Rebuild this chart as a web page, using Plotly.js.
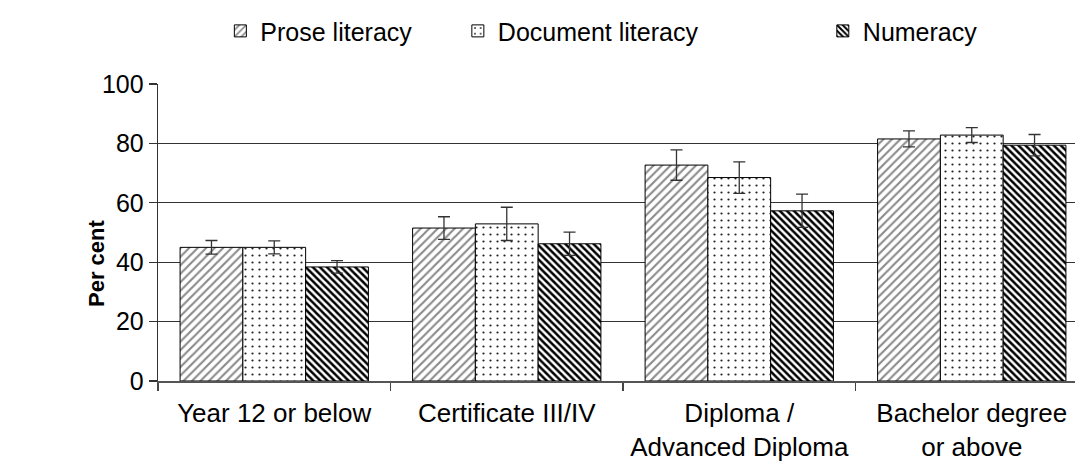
<!DOCTYPE html>
<html>
<head>
<meta charset="utf-8">
<script src="https://cdn.plot.ly/plotly-3.0.1.min.js"></script>
<style>html,body{margin:0;padding:0;background:#fff;}#chart{width:1075px;height:463px;}</style>
</head>
<body>
<div id="chart"></div>
<script>
var categories = ["Year 12 or below", "Certificate III/IV", "Diploma /<br>Advanced Diploma", "Bachelor degree<br>or above"];
var seriesNames = ["Prose literacy", "Document literacy", "Numeracy"];
var proseValues = [45.0, 51.5, 72.7, 81.5];
var proseErrors = [2.3, 3.8, 5.1, 2.7];
var documentValues = [45.0, 52.9, 68.5, 82.8];
var documentErrors = [2.2, 5.6, 5.3, 2.5];
var numeracyValues = [38.4, 46.2, 57.3, 79.4];
var numeracyErrors = [2.1, 3.9, 5.6, 3.6];
var yTicks = [0, 20, 40, 60, 80, 100];

var FONT = "Liberation Sans, Arial, sans-serif";

function errBar(arr) {
  return {type: "data", array: arr, visible: true, color: "#333", thickness: 1.3, width: 6};
}

var traces = [
  {
    type: "bar", name: seriesNames[0], x: categories, y: proseValues,
    error_y: errBar(proseErrors),
    marker: {color: "#fff", line: {color: "#000", width: 1},
      pattern: {shape: "/", fgcolor: "#8a8a8a", bgcolor: "#fff", size: 6, solidity: 0.35}},
    legend: "legend"
  },
  {
    type: "bar", name: seriesNames[1], x: categories, y: documentValues,
    error_y: errBar(documentErrors),
    marker: {color: "#fff", line: {color: "#000", width: 1},
      pattern: {shape: ".", fgcolor: "#222", bgcolor: "#fff", size: 7, solidity: 0.08}},
    legend: "legend2"
  },
  {
    type: "bar", name: seriesNames[2], x: categories, y: numeracyValues,
    error_y: errBar(numeracyErrors),
    marker: {color: "#fff", line: {color: "#000", width: 1},
      pattern: {shape: "\\", fgcolor: "#000", bgcolor: "#fff", size: 5, solidity: 0.5}},
    legend: "legend3"
  }
];

var legendBase = {orientation: "h", yanchor: "middle", xanchor: "left", y: 1.178,
  font: {family: FONT, size: 25, color: "#000"}, bgcolor: "rgba(0,0,0,0)",
  itemwidth: 30, tracegroupgap: 0};

var layout = {
  width: 1075, height: 463,
  margin: {l: 158, r: 0, t: 84, b: 82},
  paper_bgcolor: "#fff", plot_bgcolor: "#fff",
  font: {family: FONT, size: 25, color: "#000"},
  barmode: "group", bargap: 0.19, bargroupgap: 0,
  showlegend: true,
  legend: Object.assign({}, legendBase, {x: 0.068}),
  legend2: Object.assign({}, legendBase, {x: 0.327}),
  legend3: Object.assign({}, legendBase, {x: 0.725}),
  xaxis: {
    type: "category", range: [-0.5, 3.444],
    showline: true, linecolor: "#555", linewidth: 1.5,
    ticks: "outside", tickson: "boundaries", ticklen: 8, tickcolor: "#444", tickwidth: 1.3,
    showgrid: false, zeroline: false, ticklabelstandoff: 8,
    tickfont: {family: FONT, size: 26, color: "#000"}
  },
  yaxis: {
    range: [0, 100], tickvals: yTicks, ticktext: yTicks.map(String),
    showline: true, linecolor: "#333", linewidth: 1.3,
    ticks: "outside", ticklen: 8, tickcolor: "#333", tickwidth: 1.3,
    showgrid: true, gridcolor: "#333", gridwidth: 1.3, zeroline: false,
    ticklabelstandoff: 0,
    tickfont: {family: FONT, size: 25, color: "#000"}
  },
  annotations: [{
    text: "<b>Per cent</b>", textangle: -90, xref: "paper", yref: "paper",
    x: -0.0665, y: 0.394, xanchor: "center", yanchor: "middle", showarrow: false,
    font: {family: FONT, size: 22, color: "#000"}
  }]
};

Plotly.newPlot("chart", traces, layout, {staticPlot: true, displayModeBar: false});
</script>
</body>
</html>
